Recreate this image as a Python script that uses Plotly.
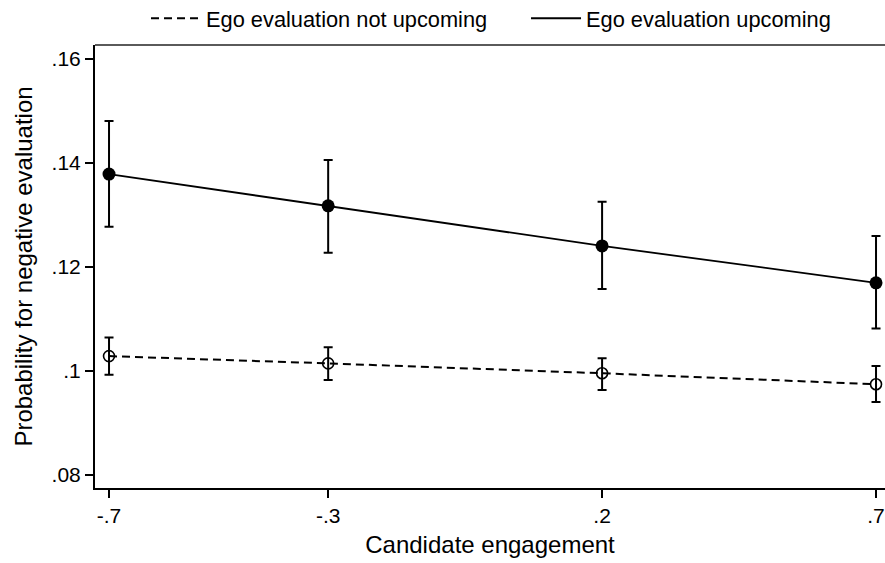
import numpy as np
import plotly.graph_objects as go

# Data
engagement = [-0.7, -0.3, 0.2, 0.7]

up_mean = [0.1378, 0.1317, 0.1240, 0.1169]
up_lo = [0.1277, 0.1227, 0.1157, 0.1081]
up_hi = [0.1480, 0.1405, 0.1325, 0.1259]

not_mean = [0.1028, 0.1014, 0.0995, 0.0974]
not_lo = [0.0992, 0.0982, 0.0963, 0.0940]
not_hi = [0.1064, 0.1045, 0.1024, 0.1009]

x_ticks = [-0.7, -0.3, 0.2, 0.7]
x_ticklabels = ["-.7", "-.3", ".2", ".7"]
y_ticks = [0.08, 0.10, 0.12, 0.14, 0.16]
y_ticklabels = [".08", ".1", ".12", ".14", ".16"]

FONT = "Liberation Sans, Arial, sans-serif"

fig = go.Figure()

def err(mean, lo, hi):
    m = np.array(mean); l = np.array(lo); h = np.array(hi)
    return dict(type="data", symmetric=False, array=h - m, arrayminus=m - l,
                color="black", thickness=2, width=4.5)

# not upcoming (dashed, hollow)
fig.add_trace(go.Scatter(
    x=engagement, y=not_mean, mode="lines+markers", showlegend=False,
    line=dict(color="black", width=2, dash="8px,5px"),
    marker=dict(symbol="circle-open", size=11, color="black", line=dict(width=1.6)),
    error_y=err(not_mean, not_lo, not_hi),
))
# upcoming (solid, filled)
fig.add_trace(go.Scatter(
    x=engagement, y=up_mean, mode="lines+markers", showlegend=False,
    line=dict(color="black", width=1.8),
    marker=dict(symbol="circle", size=13, color="black"),
    error_y=err(up_mean, up_lo, up_hi),
))

# legend entries
fig.add_trace(go.Scatter(
    x=[None], y=[None], mode="lines", name="Ego evaluation not upcoming",
    line=dict(color="black", width=2, dash="8px,5px"),
))
fig.add_trace(go.Scatter(
    x=[None], y=[None], mode="lines", name="Ego evaluation upcoming",
    line=dict(color="black", width=2),
))

fig.update_layout(
    width=885, height=563,
    margin=dict(l=95, r=0, t=45, b=75, autoexpand=False),
    paper_bgcolor="white", plot_bgcolor="white",
    font=dict(family=FONT, color="black", size=20),
    showlegend=True,
    legend=dict(orientation="h", xref="container", yref="container",
                x=0.165, xanchor="left", y=0.967, yanchor="middle",
                font=dict(size=21.8), bgcolor="rgba(0,0,0,0)", itemwidth=50,
                entrywidth=315, tracegroupgap=0),
    shapes=[dict(type="line", xref="paper", yref="paper", x0=0, x1=1, y0=1, y1=1,
                 line=dict(color="#5a5a5a", width=2))],
)

fig.update_xaxes(
    range=[-0.7256, 0.7164], tickmode="array", tickvals=x_ticks, ticktext=x_ticklabels,
    showgrid=False, zeroline=False, showline=True, linecolor="black", linewidth=2,
    ticks="outside", ticklen=8, tickwidth=1.5, tickcolor="black",
    tickfont=dict(size=21), automargin=False,
    title=dict(text="Candidate engagement", font=dict(size=24), standoff=10),
)
fig.update_yaxes(
    range=[0.07744, 0.16263], tickmode="array", tickvals=y_ticks, ticktext=y_ticklabels,
    showgrid=False, zeroline=False, showline=True, linecolor="black", linewidth=2,
    ticks="outside", ticklen=8, tickwidth=1.5, tickcolor="black",
    tickfont=dict(size=21), automargin=False,
    title=dict(text="Probability for negative evaluation", font=dict(size=24), standoff=12),
)

fig.write_html("out.html")
